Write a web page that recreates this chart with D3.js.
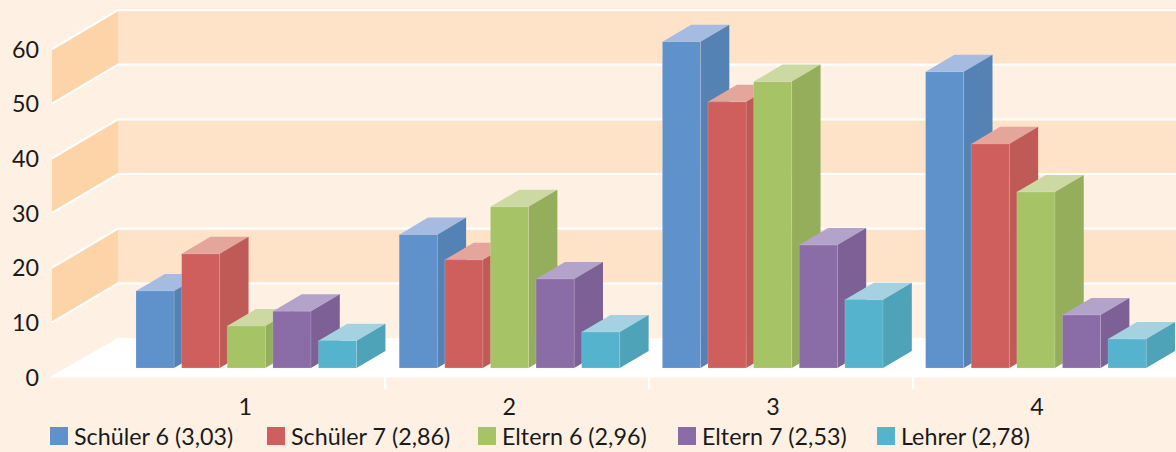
<!DOCTYPE html>
<html>
<head>
<meta charset="utf-8">
<script src="https://cdn.jsdelivr.net/npm/d3@7"></script>
<style>
html,body{margin:0;padding:0;background:#FEF1E3;}
svg{display:block;}
text{font-family:Lato,"Open Sans",sans-serif;fill:#1a1a1a;}
</style>
</head>
<body>
<svg id="chart" width="1176" height="452"></svg>
<script>
const categories = ["1", "2", "3", "4"];
const seriesNames = ["Schüler 6 (3,03)", "Schüler 7 (2,86)", "Eltern 6 (2,96)", "Eltern 7 (2,53)", "Lehrer (2,78)"];
const schueler6 = [14.1, 24.4, 59.7, 54.2];
const schueler7 = [20.9, 19.8, 48.7, 41.0];
const eltern6 = [7.7, 29.5, 52.4, 32.2];
const eltern7 = [10.4, 16.3, 22.5, 9.7];
const lehrer = [5.0, 6.6, 12.5, 5.3];
const seriesValues = [schueler6, schueler7, eltern6, eltern7, lehrer];
const yTicks = [0, 10, 20, 30, 40, 50, 60];
const frontColors = ["#5F91CB", "#CF5F5D", "#A6C366", "#8A6CA7", "#55B3CD"];
const sideColors = ["#5582B5", "#C05A57", "#95AE5C", "#7C6096", "#4FA3B9"];
const topColors = ["#A6BBE2", "#E4A59B", "#CCD9A2", "#B3A3CB", "#A5D2E1"];
const legendX = [50, 267, 478, 678, 877];

const svg = d3.select("#chart");
const y = d3.scaleLinear().domain([0, 60]).range([377, 49]);
const sep = d3.scaleBand().domain(categories).range([121.3, 1177]);
const x = d3.scaleBand().domain(categories).range([120.8, 1173.6]);
const inner = d3.scaleBand().domain(d3.range(5)).range([0, 220.6]).paddingInner(0.165);

// Oblique projection: f = 0 is the front edge of the floor, f = 1 the back wall.
const depthX = 66, depthY = 39;
const wallLeft = 52, rightEdge = 1176;
const px = (xv, f) => xv + f * depthX;
const py = (v, f) => y(v) - f * depthY;
const poly = pts => pts.map(p => p.join(",")).join(" ");

// Alternating bands on the back and side walls
const bands = d3.pairs(yTicks).reverse();
svg.append("g").selectAll("polygon").data(bands.filter((d, i) => i % 2 === 0)).join("polygon")
  .attr("points", d => poly([[px(wallLeft, 1), py(d[1], 1)], [rightEdge, py(d[1], 1)], [rightEdge, py(d[0], 1)], [px(wallLeft, 1), py(d[0], 1)]]))
  .attr("fill", "#FEE3C9");
svg.append("g").selectAll("polygon").data(bands.filter((d, i) => i % 2 === 0)).join("polygon")
  .attr("points", d => poly([[px(wallLeft, 0), py(d[1], 0)], [px(wallLeft, 1), py(d[1], 1)], [px(wallLeft, 1), py(d[0], 1)], [px(wallLeft, 0), py(d[0], 0)]]))
  .attr("fill", "#FDD3A8");

// Floor
svg.append("polygon")
  .attr("points", poly([[px(wallLeft - 3, 0), py(0, 0) + 0.5], [px(wallLeft, 1), py(0, 1)], [rightEdge, py(0, 1)], [rightEdge, py(0, 0) + 0.5]]))
  .attr("fill", "#FFFFFF");

// Gridlines running along both walls
svg.append("g").selectAll("polyline").data(yTicks.filter(d => d > 0)).join("polyline")
  .attr("points", d => poly([[px(wallLeft, 0), py(d, 0)], [px(wallLeft, 1), py(d, 1)], [rightEdge, py(d, 1)]]))
  .attr("fill", "none").attr("stroke", "#FFFFFF").attr("stroke-width", 2.2);

// Category separators below the floor
svg.append("g").selectAll("line").data(categories.slice(0, 3)).join("line")
  .attr("x1", d => sep(d) + sep.bandwidth()).attr("x2", d => sep(d) + sep.bandwidth())
  .attr("y1", y(0)).attr("y2", y(0) + 12)
  .attr("stroke", "#FFFFFF").attr("stroke-width", 2);

// Bars: top, side and front faces, drawn series by series so later ones overlap
const frontF = 0.23, backF = 0.667;
const barW = inner.bandwidth();
seriesValues.forEach((values, s) => {
  const g = svg.append("g");
  const bars = g.selectAll("g").data(values.map((v, i) => ({v, cat: categories[i]}))).join("g");
  const left = d => x(d.cat) + inner(s);
  bars.append("polygon").attr("fill", topColors[s])
    .attr("points", d => poly([
      [px(left(d), frontF), py(d.v, frontF)],
      [px(left(d), backF), py(d.v, backF)],
      [px(left(d) + barW, backF), py(d.v, backF)],
      [px(left(d) + barW, frontF), py(d.v, frontF)]]));
  bars.append("polygon").attr("fill", sideColors[s])
    .attr("points", d => poly([
      [px(left(d) + barW, frontF), py(d.v, frontF)],
      [px(left(d) + barW, backF), py(d.v, backF)],
      [px(left(d) + barW, backF), py(0, backF)],
      [px(left(d) + barW, frontF), py(0, frontF)]]));
  bars.append("rect").attr("fill", frontColors[s])
    .attr("x", d => px(left(d), frontF))
    .attr("y", d => py(d.v, frontF))
    .attr("width", barW)
    .attr("height", d => py(0, frontF) - py(d.v, frontF))
    .attr("stroke", "#FFFFFF").attr("stroke-opacity", 0.2).attr("stroke-width", 0.8);
});

// Value axis labels
svg.append("g").selectAll("text").data(yTicks).join("text")
  .attr("x", 39).attr("y", d => y(d) + 8.5)
  .attr("text-anchor", "end").attr("font-size", 23.3).text(d => d);

// Category labels
svg.append("g").selectAll("text").data(categories).join("text")
  .attr("x", d => sep(d) + sep.bandwidth() / 2 - 8).attr("y", 415)
  .attr("text-anchor", "middle").attr("font-size", 23.3).text(d => d);

// Legend
const legend = svg.append("g").selectAll("g").data(seriesNames).join("g")
  .attr("transform", (d, i) => `translate(${legendX[i]},0)`);
legend.append("rect").attr("x", 0).attr("y", 427).attr("width", 18).attr("height", 18)
  .attr("fill", (d, i) => frontColors[i]);
legend.append("text").attr("x", 24).attr("y", 445).attr("font-size", 23.3).text(d => d);
</script>
</body>
</html>
